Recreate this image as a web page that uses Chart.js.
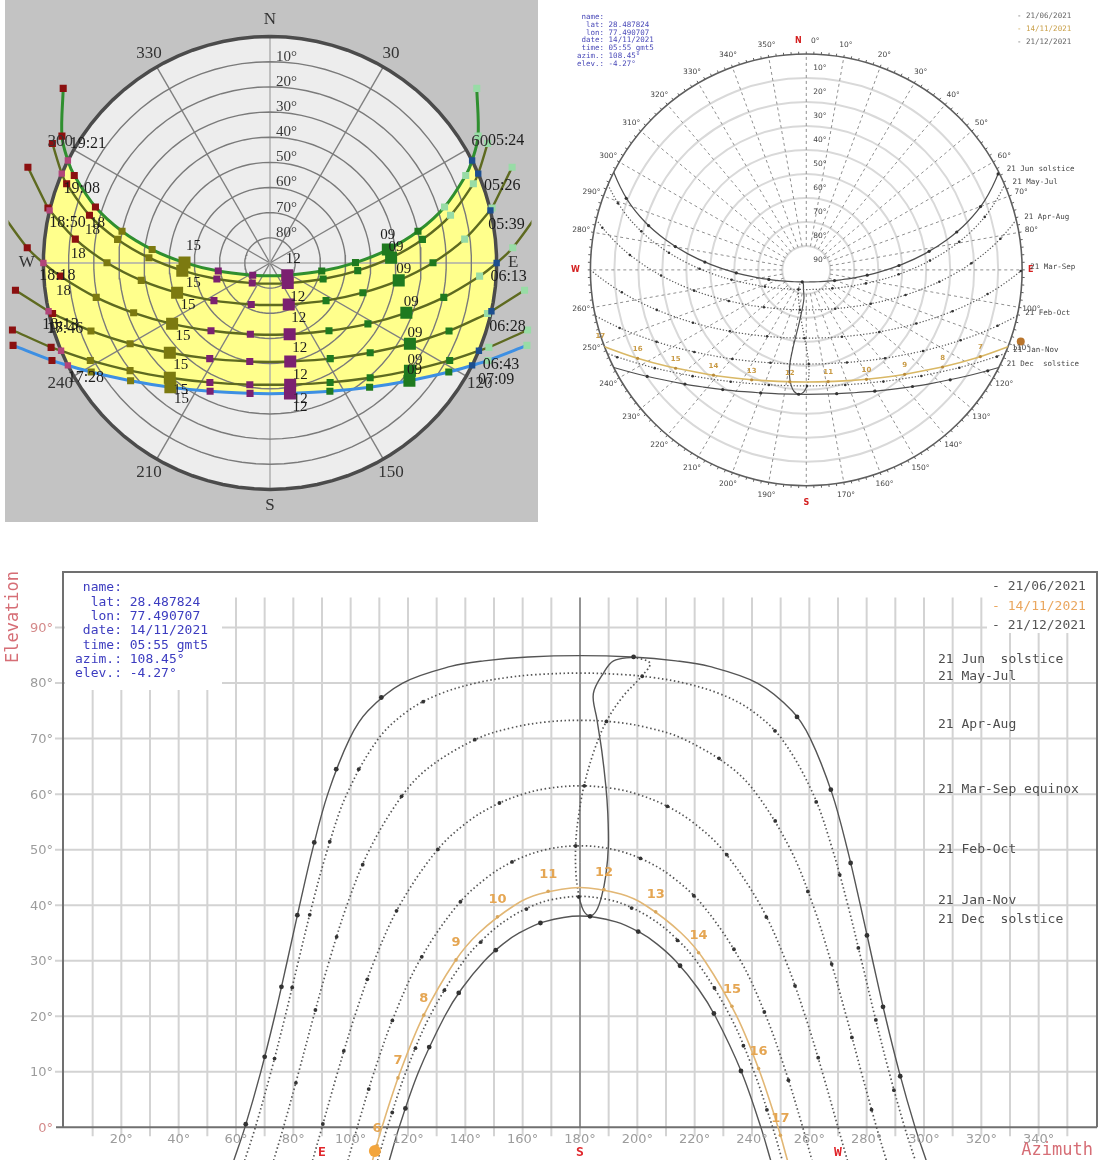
<!DOCTYPE html>
<html>
<head>
<meta charset="utf-8">
<title>Sun path diagrams – 28.49°N 77.49°E</title>
<script src="https://cdn.jsdelivr.net/npm/chart.js"></script>
<style>
  html, body { margin: 0; padding: 0; background: #fff; }
  body { position: relative; width: 1105px; height: 1166px; overflow: hidden; }
  canvas { position: absolute; }
  #skyA { left: 0; top: 0; }
  #skyB { left: 545px; top: 0; }
  #elev { left: 0; top: 545px; }
</style>
</head>
<body>
<canvas id="skyA" width="540" height="525"></canvas>
<canvas id="skyB" width="560" height="525"></canvas>
<canvas id="elev" width="1105" height="621"></canvas>
<script>
// Sun paths for lat 28.487824, lon 77.490707.
// Every point is [azimuth, elevation] in degrees; azimuth runs clockwise from north.

const junSolstice = [[59.2,-6],[63.1,0],[68.65,10],[73.5,20],[77.9,30],[82.2,40],[86.7,50],[92.0,60],[99.65,70],[106.05,75],[118.15,80],[134.9,83],[146.5,84],[161.9,84.7],[180,84.95],[198.1,84.7],[213.5,84],[225.1,83],[241.85,80],[253.95,75],[260.35,70],[268.0,60],[273.3,50],[277.8,40],[282.1,30],[286.5,20],[291.35,10],[296.9,0],[300.8,-6]];
const mayJul = [[63.0,-6],[66.75,0],[72.2,10],[77.15,20],[81.8,30],[86.55,40],[91.9,50],[98.65,60],[109.7,70],[120.0,75],[130.9,78],[143.65,80],[154.6,81],[164.0,81.5],[180,81.8],[196.0,81.5],[205.4,81],[216.35,80],[229.1,78],[240.0,75],[250.3,70],[261.35,60],[268.1,50],[273.45,40],[278.2,30],[282.85,20],[287.8,10],[293.25,0],[297.0,-6]];
const aprAug = [[73.1,-6],[76.55,0],[81.9,10],[87.1,20],[92.55,30],[98.7,40],[106.55,50],[118.35,60],[127.8,65],[144.2,70],[156.6,72],[168.3,73],[180,73.3],[191.7,73],[203.4,72],[215.8,70],[232.2,65],[241.65,60],[253.45,50],[261.3,40],[267.45,30],[272.9,20],[278.1,10],[283.45,0],[286.9,-6]];
const marSep = [[86.7,-6],[90,0],[95.5,10],[101.4,20],[108.25,30],[117.1,40],[130.3,50],[140.8,55],[150.3,58],[160.05,60],[168.3,61],[180,61.5],[191.7,61],[199.95,60],[209.7,58],[219.2,55],[229.7,50],[242.9,40],[251.75,30],[258.6,20],[264.5,10],[270,0],[273.3,-6]];
const febOct = [[99.05,-6],[102.3,0],[108.2,10],[115.1,20],[124.0,30],[137.2,40],[147.6,45],[157.1,48],[168.05,50],[180,50.7],[191.95,50],[202.9,48],[212.4,45],[222.8,40],[236.0,30],[244.9,20],[251.8,10],[257.7,0],[260.95,-6]];
const janNov = [[109.4,-6],[112.8,0],[119.3,10],[127.6,20],[139.5,30],[148.5,35],[156.3,38],[163.9,40],[170.1,41],[180,41.6],[189.9,41],[196.1,40],[203.7,38],[211.5,35],[220.5,30],[232.4,20],[240.7,10],[247.2,0],[250.6,-6]];
const decSolstice = [[113.45,-6],[116.9,0],[123.7,10],[132.8,20],[138.8,25],[146.7,30],[153.1,33],[158.8,35],[167.4,37],[180,38.07],[192.6,37],[201.2,35],[206.9,33],[213.3,30],[221.2,25],[227.2,20],[236.3,10],[243.1,0],[246.55,-6]];
const nov14 = [[107.6,-6],[110.9,0],[117.3,10],[125.3,20],[136.5,30],[144.7,35],[157.2,40],[165.8,42],[180,43.2],[194.2,42],[202.8,40],[215.3,35],[223.5,30],[234.7,20],[242.7,10],[249.1,0],[252.4,-6]];

// whole-hour sun positions (gmt5 clock)
const junHourly = [[63.4,0.56],[70.0,12.7],[75.85,25.3],[81.4,38.2],[87.3,51.3],[94.96,64.5],[110.7,77.4],[198.7,84.7],[255.7,73.9],[267.5,60.8],[274.4,47.6],[280.1,34.55],[285.7,21.7],[291.7,9.2]];
const mayHourly = [[73.45,12.38],[79.6,25.2],[85.7,38.27],[92.7,51.44],[102.8,64.5],[125.3,76.65],[201.7,81.23],[248.0,71.4],[262.4,58.6],[270.6,45.47],[277.1,32.3],[283.2,19.35],[289.5,6.7]];
const aprHourly = [[80.9,8.02],[87.7,21.13],[95.1,34.3],[104.2,47.3],[117.75,59.6],[143.3,69.8],[189.2,73.1],[228.5,66.45],[248.1,55.17],[259.5,42.48],[267.8,29.4],[274.85,16.2],[281.7,3.18]];
const marHourly = [[90.3,0.6],[97.6,13.76],[105.8,26.66],[116.0,38.98],[130.4,50.04],[151.9,58.4],[181.5,61.49],[210.5,57.8],[231.2,49.1],[245.0,37.87],[255.0,25.48],[263.1,12.54]];
const febHourly = [[106.3,6.9],[114.55,19.26],[124.8,30.71],[138.3,40.62],[156.3,47.79],[178.5,50.7],[201.1,48.43],[219.7,41.7],[233.7,32.07],[244.3,20.77],[252.7,8.5]];
const janHourly = [[114.5,2.67],[122.6,14.25],[132.7,24.7],[145.4,33.37],[161.3,39.3],[179.6,41.5],[198.0,39.48],[214.0,33.66],[226.9,25.09],[237.0,14.69],[245.2,3.15]];
const decHourly = [[119.1,3.4],[127.4,14.45],[137.7,24.2],[150.6,31.9],[166.2,36.8],[183.5,38.0],[200.3,35.25],[214.9,29.1],[226.7,20.5],[236.15,10.15]];
const nov14Hours = [6,7,8,9,10,11,12,13,14,15,16,17];
const nov14Hourly = [[109.2,-3.26],[116.5,8.9],[125.5,20.2],[136.75,30.15],[151.2,37.9],[168.9,42.5],[188.35,42.8],[206.4,38.8],[221.35,31.45],[233.0,21.8],[242.3,10.6],[249.9,-1.44]];
const sunNow = [108.45, -4.27];

// noon analemma: second half of the year drawn solid, first half dotted
const analemmaSolid = [[198.7,84.7],[191.7,84.0],[188.3,81.9],[184.65,78.1],[185.9,73.5],[187.6,67.8],[189.0,61.5],[189.7,56.5],[189.9,50.7],[189.05,45.5],[187.5,41.5],[185.7,39.0],[183.5,38.07],[181.25,39.0],[179.6,41.5]];
const analemmaDotted = [[179.6,41.5],[178.6,45.5],[178.5,50.9],[179.35,55.5],[181.4,61.5],[185.05,68.0],[189.3,73.2],[195.0,77.6],[201.1,81.0],[204.4,83.57],[198.7,84.7]];

// local clock (IST) samples for the shaded diagram: [hour, azimuth, elevation]
const junIST = [[4,49.8,-17.52],[5,58.6,-6.8],[6,65.9,4.85],[7,72.2,17.2],[8,77.9,29.9],[9,83.5,42.9],[10,89.75,56.05],[11,98.9,69.2],[12,125.3,81.6],[13,234.7,81.6],[14,261.1,69.2],[15,270.25,56.05],[16,276.5,42.9],[17,282.1,29.9],[18,287.8,17.2],[19,294.1,4.85],[20,301.4,-6.8],[21,310.2,-17.52]];
const mayIST = [[5,61.2,-8.62],[6,68.7,3.32],[7,75.2,15.85],[8,81.2,28.74],[9,87.5,41.86],[10,95.0,55.03],[11,106.8,67.97],[12,138.6,79.35],[13,221.4,79.35],[14,253.2,67.97],[15,265.0,55.03],[16,272.5,41.86],[17,278.8,28.74],[18,284.8,15.85],[19,291.3,3.32],[20,298.8,-8.62]];
const aprIST = [[5,68.4,-13.4],[6,76.1,-0.85],[7,83.0,12.11],[8,89.9,25.27],[9,97.7,38.41],[10,107.75,51.27],[11,123.9,63.18],[12,155.7,71.9],[13,204.3,71.9],[14,236.1,63.18],[15,252.25,51.27],[16,262.3,38.41],[17,270.1,25.27],[18,277.0,12.11],[19,283.9,-0.85],[20,291.6,-13.4]];
const marIST = [[5,78.8,-19.65],[6,86.4,-6.59],[7,93.6,6.59],[8,101.2,19.65],[9,110.1,32.34],[10,121.9,44.21],[11,139.0,54.29],[12,164.6,60.63],[13,195.4,60.63],[14,221.0,54.29],[15,238.1,44.21],[16,249.9,32.34],[17,258.8,19.65],[18,266.4,6.59],[19,273.6,-6.59],[20,281.2,-19.65]];
const febIST = [[6,96.1,-11.66],[7,103.1,1.34],[8,110.8,13.95],[9,120.0,25.85],[10,131.9,36.55],[11,147.8,45.09],[12,168.4,50.04],[13,191.6,50.04],[14,212.2,45.09],[15,228.1,36.55],[16,240.0,25.85],[17,249.2,13.95],[18,256.9,1.34],[19,263.9,-11.66]];
const janIST = [[6,104.6,-15.72],[7,111.1,-3.17],[8,118.5,8.8],[9,127.6,19.86],[10,138.9,29.48],[11,153.3,36.86],[12,170.6,40.97],[13,189.4,40.97],[14,206.7,36.86],[15,221.1,29.48],[16,232.4,19.86],[17,241.5,8.8],[18,248.9,-3.17],[19,255.4,-15.72]];
const decIST = [[6,107.8,-17.16],[7,114.1,-4.85],[8,121.4,6.82],[9,130.2,17.52],[10,141.3,26.74],[11,155.0,33.72],[12,171.3,37.57],[13,188.7,37.57],[14,205.0,33.72],[15,218.7,26.74],[16,229.8,17.52],[17,238.6,6.82],[18,245.9,-4.85],[19,252.2,-17.16]];
const riseLabels = ['05:24','05:26','05:39','06:13','06:28','06:43','07:09'];
const setLabels = ['19:21','19:08','18:50','18:18','18:13','17:46','17:28'];

// text
const seasonNames = ['21 Jun  solstice','21 May-Jul','21 Apr-Aug','21 Mar-Sep equinox','21 Feb-Oct','21 Jan-Nov','21 Dec  solstice'];
const seasonShort = ['21 Jun solstice','21 May-Jul','21 Apr-Aug','21 Mar-Sep','21 Feb-Oct','21 Jan-Nov','21 Dec  solstice'];
const legendDates = ['21/06/2021','14/11/2021','21/12/2021'];
const infoLines = [' name:','  lat: 28.487824','  lon: 77.490707',' date: 14/11/2021',' time: 05:55 gmt5','azim.: 108.45°','elev.: -4.27°'];

// axes and grids
const azTicks = [20,40,60,80,100,120,140,160,180,200,220,240,260,280,300,320,340];
const elTicks = [0,10,20,30,40,50,60,70,80,90];
const compass = [['E',90],['S',180],['W',270]];
const ringEls = [10,20,30,40,50,60,70,80];
const spokeAz = [0,30,60,90,120,150,180,210,240,270,300,330];
const skyAzLabels = [30,60,120,150,210,240,300,330];
const compassA = [['N',0],['E',90],['S',180],['W',270]];
const skyBAz = [0,10,20,30,40,50,60,70,80,100,110,120,130,140,150,160,170,190,200,210,220,230,240,250,260,280,290,300,310,320,330,340,350];

const seasons = [junSolstice, mayJul, aprAug, marSep, febOct, janNov, decSolstice];
const seasonSolid = [true, false, false, false, false, false, true];
const seasonHourly = [junHourly, mayHourly, aprHourly, marHourly, febHourly, janHourly, decHourly];
const seasonIST = [junIST, mayIST, aprIST, marIST, febIST, janIST, decIST];

// ---------- helpers ----------
const RAD = Math.PI / 180;
const polar = ([az, el]) => ({ x: (90 - el) * Math.sin(az * RAD), y: (90 - el) * Math.cos(az * RAD) });
const plane = ([az, el]) => ({ x: az, y: el });
const riseSet = path => path.filter(p => p[1] === 0);
const peakOf = path => path.reduce((m, p) => Math.max(m, p[1]), -90);
const above = pts => pts.filter(p => p[1] >= 0);
const circlePts = el => Array.from({ length: 91 }, (_, i) => [i * 4, el]);
const arcPts = (from, to, n) => Array.from({ length: n - 1 }, (_, i) => [from + (to - from) * (i + 1) / n, 0]);
const hourTag = h => (h < 10 ? '0' : '') + h;

const line = (pts, conv, o) => Object.assign({
  data: pts.map(conv), showLine: true, pointRadius: 0, pointHoverRadius: 0,
  borderWidth: 1.4, borderColor: '#555', tension: 0.35, fill: false, order: 20
}, o);
const dots = (pts, conv, o) => Object.assign({
  data: pts.map(conv), showLine: false, pointRadius: 2.2, pointHoverRadius: 0,
  pointBackgroundColor: '#333', pointBorderWidth: 0, order: 5
}, o);

function frameOptions(xr, yr, padding) {
  return {
    responsive: false, animation: false, devicePixelRatio: 1, events: [],
    layout: { padding },
    plugins: { legend: { display: false }, tooltip: { enabled: false } },
    scales: {
      x: { type: 'linear', display: false, min: xr[0], max: xr[1] },
      y: { type: 'linear', display: false, min: yr[0], max: yr[1] }
    }
  };
}
function skyRange(cx, cy, R, W, H) {
  const u = R / 90;
  return [[-cx / u, (W - cx) / u], [-(H - cy) / u, cy / u]];
}
function geo(chart) {
  const { x, y } = chart.scales;
  const cx = x.getPixelForValue(0), cy = y.getPixelForValue(0);
  const u = x.getPixelForValue(1) - cx;
  return {
    cx, cy, u, R: 90 * u,
    at: p => { const q = polar(p); return [x.getPixelForValue(q.x), y.getPixelForValue(q.y)]; }
  };
}

// ---------- shaded horizon diagram (clock-time markers) ----------
const merge = (ist, path) => ist.map(p => [p[1], p[2]])
  .concat(path.filter(p => p[1] === 0 || p[0] === 180))
  .sort((a, b) => a[0] - b[0]);
const skyLines = seasonIST.map((ist, i) => merge(ist, seasons[i]));
const [junRise, junSet] = riseSet(junSolstice);
const [decRise, decSet] = riseSet(decSolstice);
const daylight = [
  ...above(skyLines[0]), ...arcPts(junSet[0], decSet[0], 8),
  ...above(skyLines[6]).reverse(), ...arcPts(decRise[0], junRise[0], 8)
];
const BIG = [9, 12, 15];
const hourColour = h => h <= 7 ? '#98dca6' : h <= 11 ? '#1f7a1f' : h <= 14 ? '#7b2070' : h <= 17 ? '#7c7a10' : '#8b1010';

const aSets = [];
aSets.push(line(daylight, polar, { fill: 'shape', backgroundColor: '#ffff8c', borderWidth: 0, order: 100 }));
ringEls.forEach(e => aSets.push(line(circlePts(e), polar, { borderColor: '#7a7a7a', borderWidth: 1.4, tension: 0, order: 90 })));
spokeAz.forEach(a => aSets.push(line([[a, 90], [a, 0]], polar, { borderColor: a % 90 ? '#808080' : '#ababab', borderWidth: 1.4, tension: 0, order: 90 })));
aSets.push(line(circlePts(0), polar, { borderColor: '#4b4b4b', borderWidth: 3.5, tension: 0, order: 85 }));
skyLines.forEach((pts, i) => aSets.push(line(pts, polar, {
  borderColor: i === 0 ? '#2f8f2f' : i === 6 ? '#3d8fe3' : '#5e6a20',
  borderWidth: (i === 0 || i === 6) ? 3 : 2.4, order: 20
})));
seasonIST.forEach(ist => aSets.push({
  data: ist.map(p => polar([p[1], p[2]])), showLine: false, pointStyle: 'rect',
  pointRadius: ist.map(p => BIG.includes(p[0]) ? 8.5 : 5), pointHoverRadius: 0,
  pointBackgroundColor: ist.map(p => hourColour(p[0])), pointBorderWidth: 0, order: 5
}));
aSets.push(dots(seasons.map(s => riseSet(s)[0]), polar, { pointStyle: 'rect', pointRadius: 4.5, pointBackgroundColor: '#1d4f8f', order: 4 }));
aSets.push(dots(seasons.map(s => riseSet(s)[1]), polar, { pointStyle: 'rect', pointRadius: 4.5, pointBackgroundColor: '#b2457a', order: 4 }));

const tagHours = [9, 12, 15, 18];
const tagShiftTop = { 9: [0, -15], 12: [6, -16], 15: [9, -17], 18: [2, 16] };
const tagShift = { 9: [5, -11], 12: [10, 14], 15: [11, 12], 18: [3, 15] };
const riseShift = [[34, -20], [24, 12], [16, 14], [12, 14], [16, 16], [22, 14], [24, 14]];
const setShift = [[20, -17], [20, 15], [18, 12], [14, 13], [12, 14], [4, -22], [18, 12]];

const aDecor = {
  id: 'aDecor',
  beforeDraw(chart) {
    const { ctx } = chart;
    ctx.save();
    ctx.fillStyle = '#c3c3c3';
    ctx.fillRect(5, 0, 533, 522);
    ctx.restore();
  },
  beforeDatasetsDraw(chart) {
    const { ctx } = chart, g = geo(chart);
    ctx.save();
    ctx.fillStyle = '#ededed';
    ctx.beginPath(); ctx.arc(g.cx, g.cy, g.R, 0, 2 * Math.PI); ctx.fill();
    ctx.restore();
  },
  afterDatasetsDraw(chart) {
    const { ctx } = chart, g = geo(chart);
    ctx.save();
    ctx.textAlign = 'center'; ctx.textBaseline = 'middle';
    ctx.font = '17px "Liberation Serif"'; ctx.fillStyle = '#333';
    skyAzLabels.forEach(a => { const [px, py] = g.at([a, -6.2]); ctx.fillText(String(a), px, py); });
    compassA.forEach(([t, a]) => { const [px, py] = g.at([a, -6.6]); ctx.fillText(t, px, py); });
    ctx.font = '15px "Liberation Serif"'; ctx.textAlign = 'left'; ctx.fillStyle = '#3a3a3a';
    ringEls.forEach(e => { const py = g.at([0, e])[1]; ctx.fillText(e + '°', g.cx + 6, py - 5); });
    ctx.textAlign = 'center'; ctx.fillStyle = '#1c1c1c';
    seasonIST.forEach((ist, i) => ist.forEach(([h, az, el]) => {
      if (!tagHours.includes(h) || el < 0) return;
      const [dx, dy] = (i === 0 ? tagShiftTop : tagShift)[h];
      const [px, py] = g.at([az, el]);
      ctx.fillText(hourTag(h), px + dx, py + dy);
    }));
    ctx.font = '16px "Liberation Serif"';
    seasons.forEach((s, i) => {
      const [rise, set] = riseSet(s);
      let [px, py] = g.at(rise);
      ctx.fillText(riseLabels[i], px + riseShift[i][0], py + riseShift[i][1]);
      [px, py] = g.at(set);
      ctx.fillText(setLabels[i], px + setShift[i][0], py + setShift[i][1]);
    });
    ctx.restore();
  }
};

const A = { cx: 270, cy: 263, R: 234, W: 540, H: 525 };
const [axr, ayr] = skyRange(A.cx, A.cy, A.R, A.W, A.H);
new Chart(document.getElementById('skyA'), {
  type: 'scatter',
  data: { datasets: aSets },
  options: frameOptions(axr, ayr, 0),
  plugins: [aDecor]
});

// ---------- dashed-grid horizon diagram ----------
const bSets = [];
seasons.forEach((s, i) => bSets.push(line(s, polar, {
  borderColor: seasonSolid[i] ? '#4f4f4f' : '#5a5a5a', borderWidth: 1.2,
  borderDash: seasonSolid[i] ? [] : [1.3, 1.9], clipToHorizon: true
})));
bSets.push(line(analemmaSolid, polar, { borderColor: '#4f4f4f', borderWidth: 1.2, clipToHorizon: true }));
bSets.push(line(analemmaDotted, polar, { borderColor: '#5a5a5a', borderWidth: 1.2, borderDash: [1.3, 1.9], clipToHorizon: true }));
bSets.push(line(nov14, polar, { borderColor: '#d9b865', borderWidth: 1.6, clipToHorizon: true, order: 15 }));
seasonHourly.forEach((h, i) => bSets.push(dots(h, polar, { pointRadius: seasonSolid[i] ? 1.6 : 1.3, clipToHorizon: true })));
bSets.push(dots(above(nov14Hourly), polar, { pointRadius: 1.6, pointBackgroundColor: '#b88a3a' }));
bSets.push(dots([sunNow], polar, { pointRadius: 4, pointBackgroundColor: '#b9752c', order: 1 }));

const bDecor = {
  id: 'bDecor',
  beforeDatasetsDraw(chart) {
    const { ctx } = chart, g = geo(chart);
    ctx.save();
    ctx.strokeStyle = '#d9d9d9'; ctx.lineWidth = 2;
    ringEls.forEach(e => { ctx.beginPath(); ctx.arc(g.cx, g.cy, (90 - e) * g.u, 0, 2 * Math.PI); ctx.stroke(); });
    ctx.strokeStyle = '#8f8f8f'; ctx.lineWidth = 1; ctx.setLineDash([3, 3]);
    for (let a = 0; a < 360; a += 10) {
      const [x0, y0] = g.at([a, 80]), [x1, y1] = g.at([a, 0]);
      ctx.beginPath(); ctx.moveTo(x0, y0); ctx.lineTo(x1, y1); ctx.stroke();
    }
    ctx.setLineDash([]);
    ctx.strokeStyle = '#5e5e5e'; ctx.lineWidth = 1.6;
    ctx.beginPath(); ctx.arc(g.cx, g.cy, g.R, 0, 2 * Math.PI); ctx.stroke();
    ctx.lineWidth = 1;
    for (let a = 0; a < 360; a += 2) {
      const [x0, y0] = g.at([a, 0]), [x1, y1] = g.at([a, -1.1]);
      ctx.beginPath(); ctx.moveTo(x0, y0); ctx.lineTo(x1, y1); ctx.stroke();
    }
    ctx.restore();
  },
  beforeDatasetDraw(chart, args) {
    if (!chart.data.datasets[args.index].clipToHorizon) return;
    const { ctx } = chart, g = geo(chart);
    ctx.save();
    ctx.beginPath(); ctx.arc(g.cx, g.cy, g.R, 0, 2 * Math.PI); ctx.clip();
  },
  afterDatasetDraw(chart, args) {
    if (chart.data.datasets[args.index].clipToHorizon) chart.ctx.restore();
  },
  afterDatasetsDraw(chart) {
    const { ctx } = chart, g = geo(chart);
    ctx.save();
    ctx.textAlign = 'center'; ctx.textBaseline = 'middle';
    ctx.font = '7.5px "DejaVu Sans"'; ctx.fillStyle = '#444';
    skyBAz.forEach(a => { const [px, py] = g.at([a, -5.3]); ctx.fillText(a + '°', px + (a === 0 ? 9 : 0), py); });
    ctx.font = 'bold 8px "DejaVu Sans"'; ctx.fillStyle = '#d42020';
    let p = g.at([0, -5.6]); ctx.fillText('N', p[0] - 8, p[1]);
    p = g.at([180, -5.8]); ctx.fillText('S', p[0], p[1] + 3);
    p = g.at([90, -3.6]); ctx.fillText('E', p[0], p[1]);
    p = g.at([270, -6.3]); ctx.fillText('W', p[0], p[1]);
    ctx.font = '7.5px "DejaVu Sans"'; ctx.fillStyle = '#444'; ctx.textAlign = 'left';
    ringEls.concat([90]).forEach(e => { const py = g.at([0, e])[1]; ctx.fillText(e + '°', g.cx + 7, py - 10); });
    ctx.font = '7.5px "DejaVu Sans Mono"'; ctx.fillStyle = '#444';
    seasons.forEach((s, i) => { const [px, py] = g.at(riseSet(s)[0]); ctx.fillText(seasonShort[i], px + 8, py - 3); });
    ctx.fillStyle = '#4a4ab8';
    infoLines.forEach((t, i) => ctx.fillText(t, 32, 17 + i * 7.8));
    ['#666', '#c9a04a', '#666'].forEach((c, i) => { ctx.fillStyle = c; ctx.fillText('- ' + legendDates[i], 472, 16 + i * 13); });
    ctx.font = 'bold 7px "DejaVu Sans"'; ctx.fillStyle = '#c99b46'; ctx.textAlign = 'center';
    nov14Hourly.forEach((q, i) => {
      if (nov14Hours[i] < 7) return;
      const [px, py] = g.at(q); ctx.fillText(String(nov14Hours[i]), px, py - 9);
    });
    ctx.restore();
  }
};

const B = { cx: 261, cy: 270, R: 219, W: 560, H: 525 };
const [bxr, byr] = skyRange(B.cx, B.cy, B.R, B.W, B.H);
new Chart(document.getElementById('skyB'), {
  type: 'scatter',
  data: { datasets: bSets },
  options: frameOptions(bxr, byr, 0),
  plugins: [bDecor]
});

// ---------- elevation / azimuth chart ----------
const eSets = [];
seasons.forEach((s, i) => eSets.push(line(s, plane, {
  borderColor: '#555', borderWidth: seasonSolid[i] ? 1.4 : 1.7,
  borderDash: seasonSolid[i] ? [] : [1.5, 2.6]
})));
eSets.push(line(analemmaSolid, plane, { borderColor: '#555', borderWidth: 1.4 }));
eSets.push(line(analemmaDotted, plane, { borderColor: '#555', borderWidth: 1.7, borderDash: [1.5, 2.6] }));
eSets.push(line(nov14, plane, { borderColor: '#e2b775', borderWidth: 1.6, order: 15 }));
seasonHourly.forEach((h, i) => eSets.push(dots(h, plane, { pointRadius: seasonSolid[i] ? 2.4 : 1.9 })));
eSets.push(dots(nov14Hourly, plane, { pointRadius: 1.8, pointBackgroundColor: '#d9a65a' }));
eSets.push(dots([sunNow], plane, { pointRadius: 6, pointBackgroundColor: '#f3a53c', order: 1 }));

const elevDecor = {
  id: 'elevDecor',
  beforeDatasetsDraw(chart) {
    const { ctx, scales: { x, y } } = chart;
    const X = v => x.getPixelForValue(v), Y = v => y.getPixelForValue(v);
    ctx.save();
    ctx.strokeStyle = '#d3d3d3'; ctx.lineWidth = 2;
    for (let a = 10; a < 360; a += 10) {
      ctx.beginPath(); ctx.moveTo(X(a), Y(95.4)); ctx.lineTo(X(a), Y(-1.6)); ctx.stroke();
    }
    elTicks.slice(1).forEach(e => {
      ctx.beginPath(); ctx.moveTo(X(0) - 9, Y(e)); ctx.lineTo(X(360), Y(e)); ctx.stroke();
    });
    ctx.fillStyle = '#fff';
    ctx.fillRect(X(0) + 1, Y(100) + 1, 157, 117);
    ctx.fillRect(987, Y(100) + 1, X(360) - 987, 60);
    ctx.strokeStyle = '#555'; ctx.lineWidth = 1;
    ctx.beginPath(); ctx.moveTo(X(180), Y(95.4)); ctx.lineTo(X(180), Y(0)); ctx.stroke();
    ctx.strokeStyle = '#707070'; ctx.lineWidth = 2;
    ctx.beginPath();
    ctx.moveTo(X(0) - 1, Y(0)); ctx.lineTo(X(0) - 1, Y(100)); ctx.lineTo(X(360) + 1, Y(100)); ctx.lineTo(X(360) + 1, Y(0));
    ctx.moveTo(X(0) - 8, Y(0)); ctx.lineTo(X(360) + 1, Y(0));
    ctx.stroke();
    ctx.restore();
  },
  afterDatasetsDraw(chart) {
    const { ctx, scales: { x, y } } = chart;
    const X = v => x.getPixelForValue(v), Y = v => y.getPixelForValue(v);
    ctx.save();
    ctx.textBaseline = 'middle';
    ctx.font = '13px "DejaVu Sans"'; ctx.textAlign = 'center'; ctx.fillStyle = '#9c9c9c';
    azTicks.forEach(a => ctx.fillText(a + '°', X(a), Y(0) + 12));
    ctx.textAlign = 'right';
    elTicks.forEach(e => {
      ctx.fillStyle = (e === 0 || e === 90) ? '#d48a8a' : '#9c9c9c';
      ctx.fillText(e + '°', X(0) - 11, Y(e) + 1);
    });
    ctx.font = 'bold 13px "DejaVu Sans Mono"'; ctx.fillStyle = '#e0262b'; ctx.textAlign = 'center';
    compass.forEach(([t, a]) => ctx.fillText(t, X(a), Y(0) + 25));
    ctx.font = '17px "DejaVu Sans Mono"'; ctx.fillStyle = '#d66e76'; ctx.textAlign = 'right';
    ctx.fillText('Azimuth', X(360) - 3, Y(0) + 23);
    ctx.save();
    ctx.translate(14, Y(100) + 45); ctx.rotate(-Math.PI / 2);
    ctx.textAlign = 'center'; ctx.fillText('Elevation', 0, 0);
    ctx.restore();
    ctx.font = '13px "DejaVu Sans Mono"'; ctx.fillStyle = '#3c3cc0'; ctx.textAlign = 'left';
    infoLines.forEach((t, i) => ctx.fillText(t, X(0) + 11, Y(100) + 16 + i * 14.3));
    ['#555', '#eaa75f', '#555'].forEach((c, i) => { ctx.fillStyle = c; ctx.fillText('- ' + legendDates[i], 992, Y(100) + 15 + i * 19.5); });
    ctx.fillStyle = '#4d4d4d';
    seasons.forEach((s, i) => ctx.fillText(seasonNames[i], 938, Y(peakOf(s)) + 4));
    ctx.font = 'bold 13px "DejaVu Sans"'; ctx.fillStyle = '#e5a653'; ctx.textAlign = 'center';
    nov14Hourly.forEach((q, i) => ctx.fillText(String(nov14Hours[i]), X(q[0]), Y(q[1]) - 17));
    ctx.restore();
  }
};

new Chart(document.getElementById('elev'), {
  type: 'scatter',
  data: { datasets: eSets },
  options: frameOptions([0, 360], [-5.88, 100], { left: 64, right: 9, top: 27, bottom: 0 }),
  plugins: [elevDecor]
});
</script>
</body>
</html>
